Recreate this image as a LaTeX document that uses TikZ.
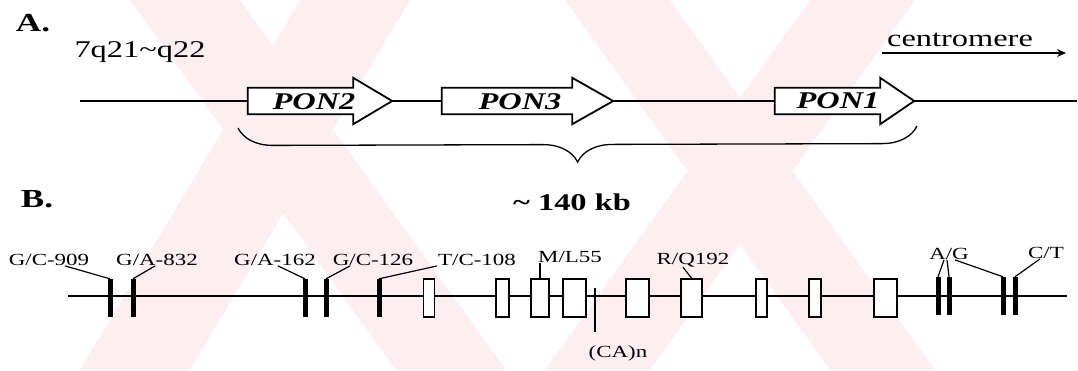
\documentclass[tikz,border=0pt]{standalone}
\usepackage{fontspec}
\setmainfont[FakeStretch=1.35]{Liberation Serif}
\usetikzlibrary{decorations.pathreplacing,arrows.meta,calc}
\newcommand\bigf{\fontsize{24}{28}\selectfont}
\newcommand\lblf{\fontsize{17}{20}\selectfont}
\definecolor{wm}{RGB}{253,238,241}
\begin{document}
\begin{tikzpicture}[x=1pt,y=-1pt,
  big/.style={font=\bigf, inner sep=0pt},
  head/.style={font=\bigf\bfseries, inner sep=0pt},
  lbl/.style={font=\lblf, inner sep=0pt},
  genename/.style={font=\bigf\bfseries\itshape, inner sep=0pt},
  genebox/.style={draw=none, inner sep=0pt, minimum height=26pt},
  geneline/.style={draw=black, line width=1.8pt, fill=white, line join=miter},
  chrom/.style={line width=2pt},
  exon/.style={draw=black, line width=1.8pt, fill=white, inner sep=0pt, minimum height=38pt},
  snp/.style={fill=black, inner sep=0pt, minimum width=5pt, minimum height=38pt},
  conn/.style={line width=1.2pt},
  band/.style={fill=wm, draw=none}]
\useasboundingbox (0,0) rectangle (1078,370);
\fill[white] (0,0) rectangle (1078,370);
% watermark bands
\fill[band] (130,0) -- (240,0) -- (506,370) -- (396,370) -- cycle;
\fill[band] (300,0) -- (410,0) -- (190,370) -- (80,370) -- cycle;
\fill[band] (565,0) -- (670,0) -- (935,370) -- (830,370) -- cycle;
\fill[band] (810,0) -- (915,0) -- (650,370) -- (545,370) -- cycle;
% ---------- A ----------
\node[head, font=\fontsize{26}{30}\selectfont\bfseries] (A) at (33,23) {A.};
\node[big] (loc) at (140,52) {7q21\textasciitilde q22};
\node[big] (cen) at (960,40) {centromere};
\coordinate (c0) at (882,53);
\coordinate (c1) at (1066,53);
\draw[line width=1.4pt,-{Stealth[length=9pt,width=8pt]}] (c0) -- (c1);
\node[genebox, minimum width=105pt] (pon2) at (300.5,101) {};
\node[genebox, minimum width=130pt] (pon3) at (507,101) {};
\node[genebox, minimum width=105pt] (pon1) at (827.5,101) {};
\coordinate (a0) at (80,101);
\coordinate (a1) at (1077,101);
\coordinate (pon2tip) at ([xshift=39pt]pon2.east);
\coordinate (pon3tip) at ([xshift=41pt]pon3.east);
\coordinate (pon1tip) at ([xshift=34pt]pon1.east);
\draw[chrom] (a0) -- (pon2.west);
\draw[chrom] (pon2tip) -- (pon3.west);
\draw[chrom] (pon3tip) -- (pon1.west);
\draw[chrom] (pon1tip) -- (a1);
\foreach \g in {pon2,pon3,pon1}{
  \draw[geneline] (\g.north west) -- (\g.north east) -- ([yshift=10pt]\g.north east)
    -- (\g tip) -- ([yshift=-10pt]\g.south east) -- (\g.south east) -- (\g.south west) -- cycle;
}
\node[genename] (t2) at (314,102) {PON2};
\node[genename] (t3) at (520,102) {PON3};
\node[genename] (t1) at (838,101) {PON1};
\coordinate (b0) at (238,128);
\coordinate (b1) at (917,126);
\draw[line width=1.3pt, decorate, decoration={brace, amplitude=35pt, mirror}] (b0) -- (b1);
\node[head] (kb) at (572,202) {\textasciitilde{} 140 kb};
% ---------- B ----------
\node[head, font=\fontsize{26}{30}\selectfont\bfseries] (B) at (37,199) {B.};
\coordinate (l0) at (68,296);
\coordinate (l1) at (1067,296);
\draw[chrom] (l0) -- (l1);
% exons
\node[exon, minimum width=11pt] (e1) at (429,298) {};
\node[exon, minimum width=13pt] (e2) at (502.5,298) {};
\node[exon, minimum width=18pt] (e3) at (540,298) {};
\node[exon, minimum width=23pt] (e4) at (574.5,298) {};
\node[exon, minimum width=23pt] (e5) at (637.5,298) {};
\node[exon, minimum width=21pt] (e6) at (691.5,298) {};
\node[exon, minimum width=11pt] (e7) at (761.5,298) {};
\node[exon, minimum width=12pt] (e8) at (815,298) {};
\node[exon, minimum width=23pt] (e9) at (885.5,298) {};
% SNP ticks
\node[snp] (s1) at (110,298) {};
\node[snp] (s2) at (133,298) {};
\node[snp] (s3) at (305,298) {};
\node[snp] (s4) at (326,298) {};
\node[snp] (s5) at (379,298) {};
\node[snp] (s6) at (938,296) {};
\node[snp] (s7) at (949,296) {};
\node[snp] (s8) at (1003,296) {};
\node[snp] (s9) at (1015,296) {};
\coordinate (ca0) at (595,288);
\coordinate (ca1) at (595,332);
\draw[line width=1.6pt] (ca0) -- (ca1);
% labels
\node[lbl] (l909) at (49,260) {G/C-909};
\node[lbl] (l832) at (157,260) {G/A-832};
\node[lbl] (l162) at (275,260) {G/A-162};
\node[lbl] (l126) at (373,260) {G/C-126};
\node[lbl] (l108) at (477,260) {T/C-108};
\node[lbl] (lm55) at (570,257) {M/L55};
\node[lbl] (lr192) at (693,260) {R/Q192};
\node[lbl] (lag) at (949,254) {A/G};
\node[lbl] (lct) at (1046,253) {C/T};
\node[lbl] (lca) at (618,353) {(CA)n};
% connectors
\draw[conn] ([xshift=16pt]l909.south) -- (s1.north);
\draw[conn] ([xshift=-2pt]l832.south) -- (s2.north);
\draw[conn] ([xshift=3pt]l162.south) -- (s3.north);
\draw[conn] ([xshift=-23pt]l126.south) -- (s4.north);
\draw[conn] ([xshift=-40pt]l108.south) -- (s5.north);
\draw[conn] (e3.north |- lm55.south) -- (e3.north);
\draw[conn] ([xshift=-10pt]lr192.south) -- (e6.north);
\draw[conn] ([xshift=-5pt]lag.south) -- (s6.north);
\draw[conn] ([xshift=-2pt]lag.south) -- (s7.north);
\draw[conn] ([xshift=6pt]lag.south) -- (s8.north);
\draw[conn] ([xshift=-6pt]lct.south) -- (s9.north);
\end{tikzpicture}
\end{document}
